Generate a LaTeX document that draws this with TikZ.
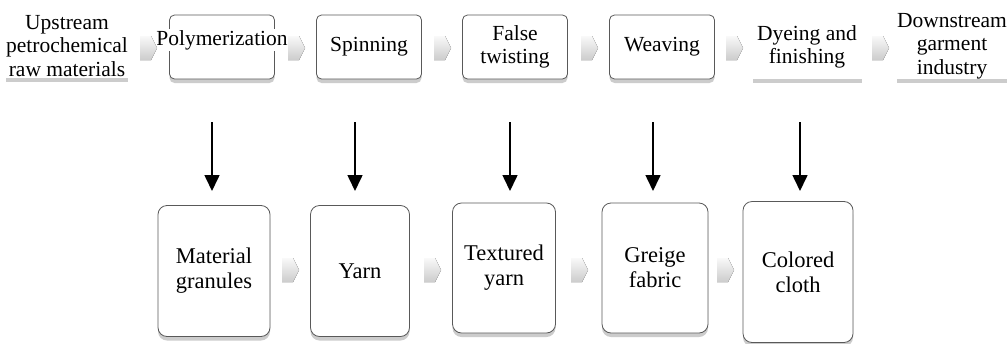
\documentclass[tikz,border=0pt]{standalone}
\usepackage{fontspec}
\setmainfont{Liberation Serif}
\usetikzlibrary{shadows,arrows.meta,calc}
\begin{document}
\begin{tikzpicture}[x=1pt,y=-1pt,
  txt/.style={font=\fontsize{21.5}{23.5}\selectfont, align=center, inner sep=0pt},
  btxt/.style={font=\fontsize{22.5}{25}\selectfont, align=center, inner sep=0pt},
  topbox/.style={txt, draw=gray!70!black, line width=0.8pt, rounded corners=5pt, fill=white,
     minimum height=64pt, drop shadow={opacity=0.4, shadow xshift=0pt, shadow yshift=-4pt}},
  plainbox/.style={txt, fill=white, minimum height=64pt,
     drop shadow={opacity=0.4, shadow xshift=0pt, shadow yshift=-4pt}},
  botbox/.style={btxt, draw=gray!70!black, line width=0.8pt, rounded corners=9pt, fill=white,
     drop shadow={opacity=0.4, shadow xshift=0pt, shadow yshift=-4pt}},
  chev/.style={top color=gray!5, bottom color=gray!40, draw=none},
  down/.style={-{Triangle[width=15pt,length=16pt]}, line width=1.6pt, black}
]
\useasboundingbox (0,0) rectangle (1008,343);
\fill[white] (0,0) rectangle (1008,343);

% top row
\node[plainbox, minimum width=120pt] (up) at (67,46) {Upstream\\petrochemical\\raw materials};
\node[topbox, minimum width=105pt] (poly) at (222,47) {};
\node[txt, fill=white, inner sep=1pt] (polyt) at (222,40) {Polymerization};
\node[topbox, minimum width=105pt] (spin) at (369,47) {Spinning};
\node[topbox, minimum width=105pt] (false) at (515,47) {False\\twisting};
\node[topbox, minimum width=105pt] (weave) at (662,47) {Weaving};
\node[plainbox, minimum width=109pt] (dye) at (807,47) {Dyeing and\\finishing};
\node[plainbox, minimum width=110pt] (down) at (952,46) {Downstream\\garment\\industry};

% chevrons top
\foreach \n/\x in {c1/148,c2/296,c3/442,c4/589,c5/734,c6/880}{
  \coordinate (\n) at (\x,48);
  \fill[chev] ($(\n)+(-8,-12)$) -- ($(\n)+(3,-12)$) -- ($(\n)+(9,0)$) -- ($(\n)+(3,12)$) -- ($(\n)+(-8,12)$) -- cycle;
}

% bottom row
\node[botbox, minimum width=112pt, minimum height=131pt] (mat) at (214,271) {Material\\granules};
\node[botbox, minimum width=99pt, minimum height=131pt] (yarn) at (360,271) {Yarn};
\node[botbox, minimum width=103pt, minimum height=130pt] (tex) at (504,268) {Textured\\yarn};
\node[botbox, minimum width=106pt, minimum height=130pt] (greige) at (655,268) {Greige\\fabric};
\node[botbox, minimum width=110pt, minimum height=141pt] (col) at (798,272) {Colored\\cloth};

\foreach \n/\x in {d1/290,d2/432,d3/579,d4/725}{
  \coordinate (\n) at (\x,270);
  \fill[chev] ($(\n)+(-8,-12)$) -- ($(\n)+(3,-12)$) -- ($(\n)+(9,0)$) -- ($(\n)+(3,12)$) -- ($(\n)+(-8,12)$) -- cycle;
}

% vertical arrows
\foreach \n/\x in {a1/212,a2/355,a3/510,a4/653,a5/800}{
  \coordinate (\n s) at (\x,122);
  \coordinate (\n e) at (\x,191);
  \draw[down] (\n s) -- (\n e);
}
\end{tikzpicture}
\end{document}
